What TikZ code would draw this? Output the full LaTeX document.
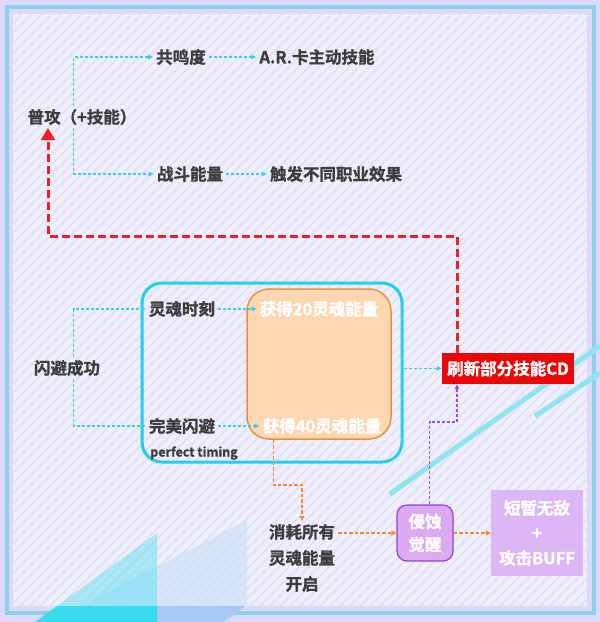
\documentclass[tikz,border=0pt]{standalone}
\usepackage{fontspec}
\usetikzlibrary{arrows.meta}
\newfontfamily\hv[FakeBold=1.3]{Noto Sans CJK SC Bold}
\definecolor{bg}{HTML}{DCDAF8}
\definecolor{frameblue}{HTML}{8CCFEE}
\definecolor{panel}{HTML}{EFEEFC}
\definecolor{stripe}{HTML}{DEDDF1}
\definecolor{txt}{HTML}{3D3D3D}
\definecolor{cyanline}{HTML}{3CCFE6}
\definecolor{boxcyan}{HTML}{22CFEE}
\definecolor{orfill}{HTML}{FDD6B2}
\definecolor{ordraw}{HTML}{E8923E}
\definecolor{orline}{HTML}{F08A30}
\definecolor{redline}{HTML}{F01E1E}
\definecolor{redbox}{HTML}{EC0808}
\definecolor{pufill}{HTML}{DDAAF2}
\definecolor{pudraw}{HTML}{9442CC}
\definecolor{puline}{HTML}{9B52E0}
\definecolor{lilac}{HTML}{DDB6F6}
\definecolor{bar}{HTML}{8FE4F2}
\definecolor{cyantri}{HTML}{55E0F2}
\definecolor{cyanstrip}{HTML}{38DCEE}
\definecolor{paletri}{HTML}{C8E0FA}
\definecolor{palestrip}{HTML}{AAC8F6}
\tikzset{
  lbl/.style={font=\hv\fontsize{16.5}{20}\selectfont, text=txt, inner sep=3pt},
  wlbl/.style={lbl, text=white},
  multi/.style={align=center, font=\hv\fontsize{16.5}{26}\selectfont},
  cyarrow/.style={draw=cyanline, line width=1.1pt, dash pattern=on 3pt off 2pt, -{Triangle[length=5pt,width=4.5pt]}},
  orarrow/.style={draw=orline, line width=1.4pt, dash pattern=on 3.5pt off 2pt, -{Triangle[length=5pt,width=5pt]}},
  puarrow/.style={draw=puline, line width=1.1pt, dash pattern=on 3pt off 2pt, -{Triangle[length=5pt,width=4.5pt]}},
  redarrow/.style={draw=redline, line width=3pt, dash pattern=on 8pt off 4pt, -{Triangle[length=12pt,width=14pt]}},
  decobar/.style={draw=bar, line width=5pt}
}
\begin{document}
\begin{tikzpicture}[x=1pt,y=-1pt]
\useasboundingbox (0,0) rectangle (600,622);
% background and frame
\fill[bg] (0,0) rectangle (600,622);
\draw[frameblue, line width=4pt] (7,7) rectangle (594,613);
\fill[panel] (13,14) rectangle (587,606);
\begin{scope}
  \clip (13,14) rectangle (587,606);
  \foreach \k in {-600,-590,...,600} \draw[stripe, line width=1.2pt] (\k,606) -- ++(592,-592);
\end{scope}
% bottom-left triangles
\begin{scope}
  \clip (0,0) rectangle (600,606);
  \fill[paletri, opacity=0.6] (247,520) -- (247,622) -- (50,622) -- cycle;
  \fill[cyantri, opacity=0.45] (157,533) -- (157,622) -- (35,622) -- cycle;
\end{scope}
\begin{scope}
  \clip (0,606) rectangle (600,622);
  \fill[palestrip] (247,520) -- (247,605) -- (224,622) -- (50,622) -- cycle;
  \fill[cyanstrip] (157,533) -- (157,622) -- (35,622) -- cycle;
\end{scope}
% right decorative bars
\draw[decobar] (390,494) -- (600,346);
\draw[decobar] (535,416) -- (600,373);

% boxes
\node[draw=boxcyan, line width=3pt, rounded corners=20pt, minimum width=260pt, minimum height=179pt] (cb) at (272,372.5) {};
\node[fill=orfill, draw=ordraw, line width=1.5pt, rounded corners=22pt, minimum width=144pt, minimum height=150pt] (ob) at (319,364) {};

% labels
\node[lbl] (pg) at (82,117) {普攻（+技能）};
\node[lbl] (gmd) at (181,57) {共鸣度};
\node[lbl] (ar) at (317,57) {A.R.卡主动技能};
\node[lbl] (zd) at (190,174) {战斗能量};
\node[lbl] (cf) at (336,174) {触发不同职业效果};
\node[lbl] (sb) at (67,368) {闪避成功};
\node[lbl] (lh) at (182,309) {灵魂时刻};
\node[wlbl] (g20) at (319,309) {获得20灵魂能量};
\node[lbl] (wm) at (182,426) {完美闪避};
\node[wlbl] (g40) at (322,426) {获得40灵魂能量};
\node[lbl, font=\hv\fontsize{12.5}{15}\selectfont] (pt) at (194,453) {perfect timing};
\node[lbl, fill=redbox, text=white, minimum width=132pt, minimum height=31pt, inner sep=0pt] (sx) at (508,368.5) {刷新部分技能CD};
\node[lbl, multi] (xh) at (302,558) {消耗所有\\灵魂能量\\开启};
\node[wlbl, fill=pufill, draw=pudraw, line width=1.2pt, rounded corners=10pt, minimum width=56pt, minimum height=56pt, align=center, font=\hv\fontsize{16.5}{23}\selectfont] (qs) at (425,533) {侵蚀\\觉醒};
\node[wlbl, fill=lilac, minimum width=92pt, minimum height=86pt, align=center, font=\hv\fontsize{16.5}{25}\selectfont] (dz) at (537,533) {短暂无敌\\+\\攻击BUFF};

% connectors
\draw[cyarrow] ([xshift=-8.5pt]pg.north) |- (gmd.west);
\draw[cyarrow] ([xshift=-8.5pt]pg.south) |- (zd.west);
\draw[cyarrow] (gmd.east) -- (ar.west);
\draw[cyarrow] (zd.east) -- (cf.west);
\draw[cyarrow] ([xshift=6.5pt]sb.north) |- (lh.west);
\draw[cyarrow] ([xshift=6.5pt]sb.south) |- (wm.west);
\draw[cyarrow] (lh.east) -- (g20.west);
\draw[cyarrow] (wm.east) -- (g40.west);
\draw[cyarrow] (cb.east |- sx.west) -- (sx.west);
\coordinate (rc) at (48,236);
\draw[redarrow] ([xshift=-51pt]sx.north) |- (rc) -- (rc |- pg.south);
\coordinate (oc) at (273.5,485);
\draw[orarrow] (oc |- ob.south) -- (oc) -| (xh.north);
\draw[orarrow] (qs.west -| xh.east) -- (qs.west);
\draw[orarrow] (qs.east) -- (dz.west);
\coordinate (pc) at (429.5,422);
\draw[puarrow] (pc |- qs.north) -- (pc) -| ([xshift=-51pt]sx.south);
\end{tikzpicture}
\end{document}
